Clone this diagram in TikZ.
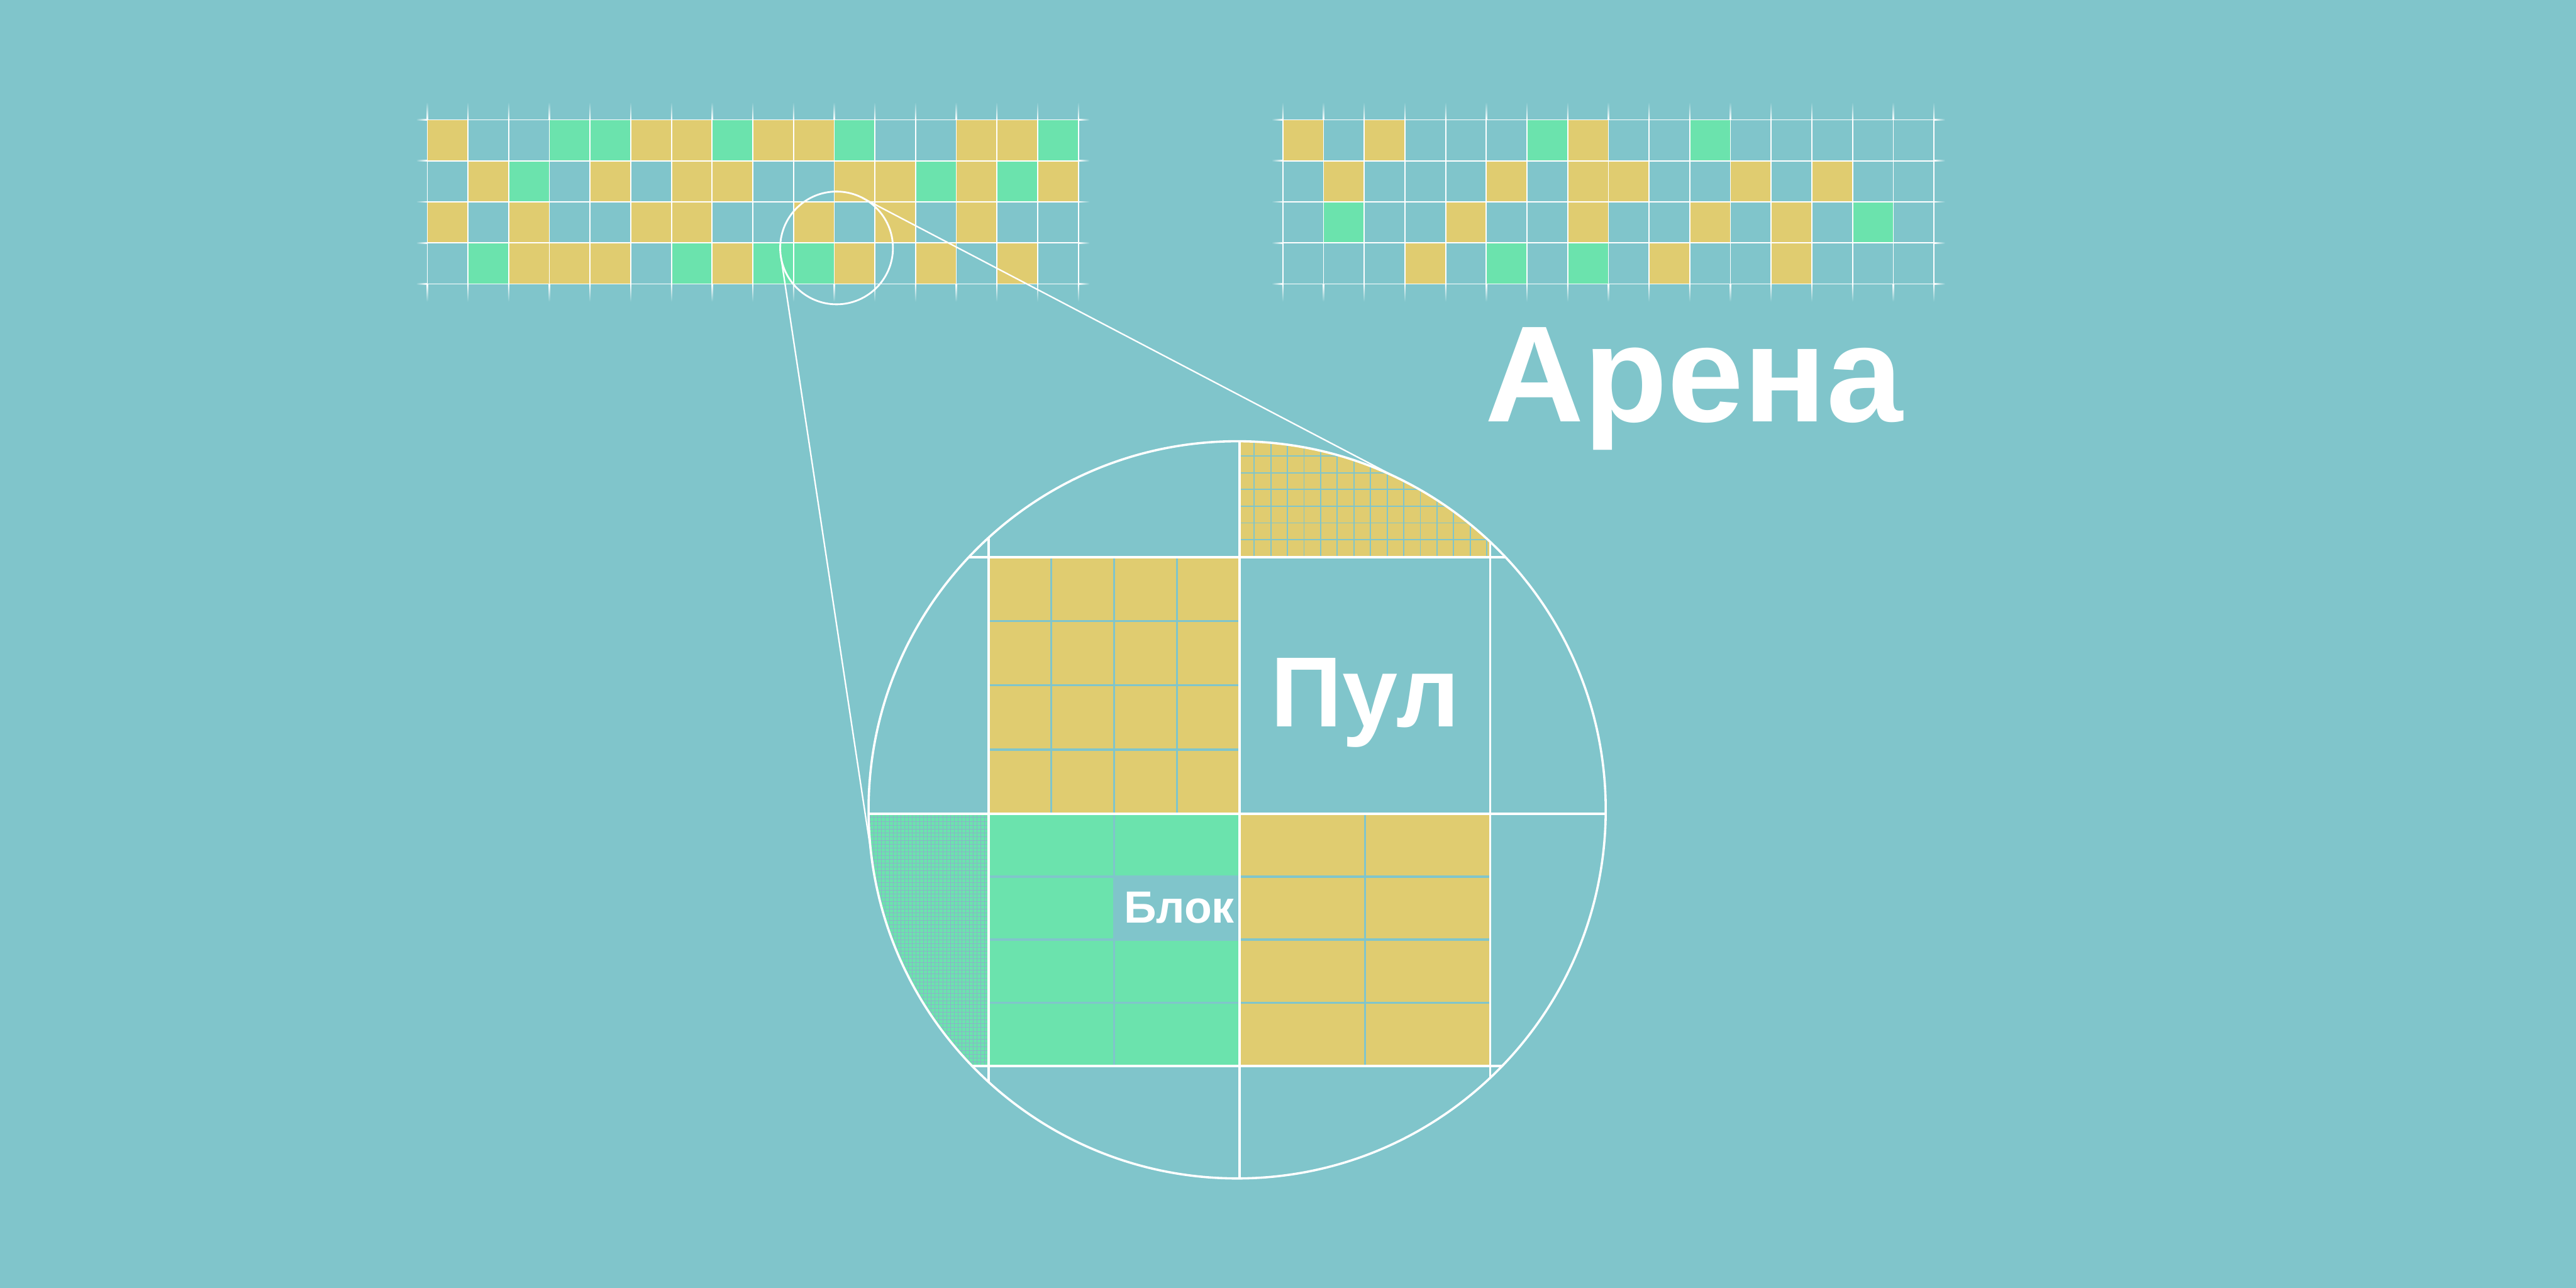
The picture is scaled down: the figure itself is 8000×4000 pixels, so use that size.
\documentclass[tikz,border=0pt]{standalone}
\usepackage{fontspec}
\newfontfamily\lsans{Liberation Sans}
\definecolor{bg}{HTML}{80C5CB}
\definecolor{yel}{HTML}{E0CC70}
\definecolor{grn}{HTML}{6BE3AD}
\definecolor{fine}{HTML}{8AB3C8}
\begin{document}
\begin{tikzpicture}[x=0.01cm,y=-0.01cm,
  cY/.style={fill=yel}, cG/.style={fill=grn}, cB/.style={fill=bg},
  gridline/.style={white, line width=0.035cm},
  bigline/.style={white, line width=0.07cm},
  tealline/.style={bg, line width=0.07cm, line cap=round},
  fineY/.style={bg, line width=0.035cm},
  fineG/.style={fine, line width=0.017cm},
  lbl/.style={text=white, inner sep=0pt}]
\useasboundingbox (0,0) rectangle (8000,4000);
\fill[bg] (0,0) rectangle (8000,4000);

% ---------- top-left arena grid ----------
\foreach \row [count=\r from 0] in {{Y,B,B,G,G,Y,Y,G,Y,Y,G,B,B,Y,Y,G},{B,Y,G,B,Y,B,Y,Y,B,B,Y,Y,G,Y,G,Y},{Y,B,Y,B,B,Y,Y,B,B,Y,B,Y,B,Y,B,B},{B,G,Y,Y,Y,B,G,Y,G,G,Y,B,Y,B,Y,B}}
  \foreach \c [count=\k from 0] in \row
    \fill[c\c] ({1327+126.375*\k},{372+127.5*\r}) rectangle ({1327+126.375*(\k+1)},{372+127.5*(\r+1)});
% ---------- top-right arena grid ----------
\foreach \row [count=\r from 0] in {{Y,B,Y,B,B,B,G,Y,B,B,G,B,B,B,B,B},{B,Y,B,B,B,Y,B,Y,Y,B,B,Y,B,Y,B,B},{B,G,B,B,Y,B,B,Y,B,B,Y,B,Y,B,G,B},{B,B,B,Y,B,G,B,G,B,Y,B,B,Y,B,B,B}}
  \foreach \c [count=\k from 0] in \row
    \fill[c\c] ({3984+126.375*\k},{372+127.5*\r}) rectangle ({3984+126.375*(\k+1)},{372+127.5*(\r+1)});

% grid lines with faded ends
\foreach \gx in {1327,3984} {
  \foreach \k in {0,...,16} {
    \pgfmathsetmacro\xx{\gx+126.375*\k}
    \draw[gridline] (\xx,372) -- (\xx,882);
    \shade[top color=bg, bottom color=white] ({\xx-1.75},317) rectangle ({\xx+1.75},372);
    \shade[top color=white, bottom color=bg] ({\xx-1.75},882) rectangle ({\xx+1.75},937);
  }
  \foreach \r in {0,...,4} {
    \pgfmathsetmacro\yy{372+127.5*\r}
    \pgfmathsetmacro\xe{\gx+2022}
    \draw[gridline] (\gx,\yy) -- (\xe,\yy);
    \shade[left color=bg, right color=white] ({\gx-35},{\yy-1.75}) rectangle (\gx,{\yy+1.75});
    \shade[left color=white, right color=bg] (\xe,{\yy-1.75}) rectangle ({\xe+35},{\yy+1.75});
  }
}

% ---------- magnified circle ----------
\coordinate (bigc) at (3842,2515);
\coordinate (smallc) at (2598,770);
\begin{scope}
  \clip (bigc) circle (11.44cm);
  % cells
  \fill[yel] (3070,1730) rectangle (3850,2527);
  \fill[grn] (3070,2527) rectangle (3850,3310);
  \fill[yel] (3850,2527) rectangle (4628,3310);
  \fill[yel] (3850,1300) rectangle (4628,1730);
  \fill[grn] (2600,2527) rectangle (3070,3310);
  \fill[bg]  (3460,2723) rectangle (3850,2918);
  % fine grid in yellow cell
  \begin{scope}
    \clip (3850,1300) rectangle (4628,1730);
    \foreach \k in {0,...,14} \draw[fineY] ({3895+51.6*\k},1300) -- ({3895+51.6*\k},1730);
    \foreach \k in {1,...,8} \draw[fineY] (3850,{1728-52*\k}) -- (4628,{1728-52*\k});
  \end{scope}
  % fine grid in green cell
  \begin{scope}
    \clip (2600,2527) rectangle (3070,3310);
    \foreach \k in {1,...,40} \draw[fineG] ({3070-11.86*\k},2527) -- ({3070-11.86*\k},3310);
    \foreach \k in {1,...,66} \draw[fineG] (2600,{2527+11.86*\k}) -- (3070,{2527+11.86*\k});
  \end{scope}
  % teal division lines
  \foreach \xx in {3265,3460,3655} \draw[tealline] (\xx,1730) -- (\xx,2527);
  \foreach \yy in {1929,2128,2328} \draw[tealline] (3070,\yy) -- (3850,\yy);
  \draw[tealline] (3460,2527) -- (3460,3310);
  \draw[tealline] (4239,2527) -- (4239,3310);
  \foreach \yy in {2723,2918,3114} {
    \draw[tealline] (3070,\yy) -- (3850,\yy);
    \draw[tealline] (3850,\yy) -- (4628,\yy);
  }
  % white frame lines
  \foreach \xx in {3070,3850,4628} \draw[bigline] (\xx,1300) -- (\xx,3700);
  \foreach \yy in {1730,2527,3310} \draw[bigline] (2600,\yy) -- (5100,\yy);
\end{scope}
\draw[bigline] (bigc) circle (11.44cm);

% small circle and tangents
\draw[white, line width=0.055cm] (smallc) circle (1.75cm);
\coordinate (sA) at (2679.2,615.0);
\coordinate (bA) at (4372.6,1501.5);
\coordinate (sB) at (2425.0,796.2);
\coordinate (bB) at (2710.9,2686.1);
\draw[white, line width=0.045cm] (sA) -- (bA);
\draw[white, line width=0.045cm] (sB) -- (bB);

% labels
\node[lbl, anchor=base west, font=\lsans\bfseries\fontsize{121pt}{130pt}\selectfont] (arena) at (4611,1310) {Арена};
\node[lbl, anchor=base, font=\lsans\bfseries\fontsize{88pt}{96pt}\selectfont] (pul) at (4239,2257) {Пул};
\node[lbl, anchor=base, font=\lsans\bfseries\fontsize{39.8pt}{44pt}\selectfont] (blok) at (3662,2867) {Блок};
\end{tikzpicture}
\end{document}
